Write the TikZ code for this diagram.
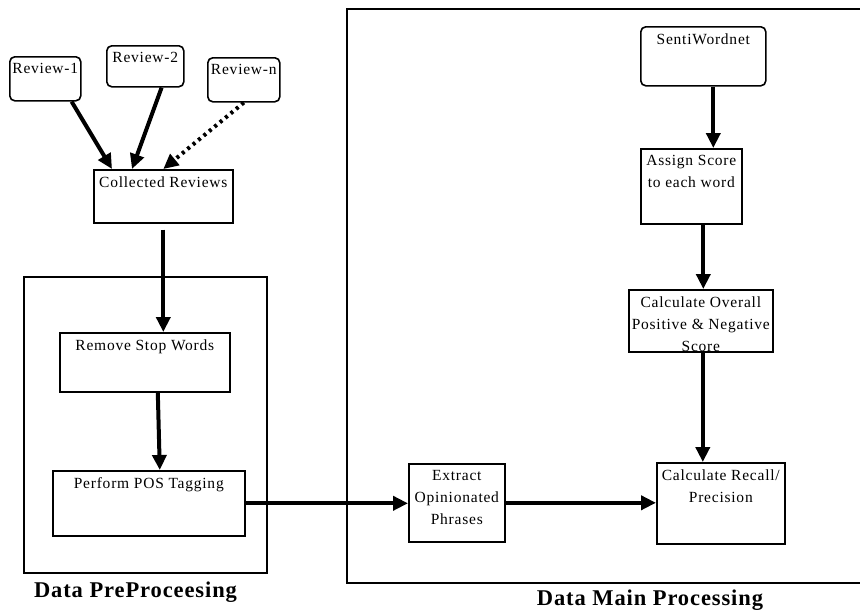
\documentclass[tikz,border=0pt]{standalone}
\usepackage{fontspec}
\setmainfont{Liberation Serif}[LetterSpace=5]
\newfontfamily\headfont{Liberation Serif}[LetterSpace=4]
\usetikzlibrary{arrows.meta}

\tikzset{
  stagebox/.style 2 args={draw, line width=1.6pt, inner sep=0pt, anchor=north west,
    font=\fontsize{15.5}{22}\selectfont,
    execute at begin node={\begin{minipage}[t][#2pt][t]{#1pt}\centering\vspace*{6.5pt}},
    execute at end node={\end{minipage}}},
  sourcebox/.style 2 args={stagebox={#1}{#2}, rounded corners=5pt},
  flow/.style={line width=4pt, -{Triangle[length=15pt,width=14pt]}},
  hint/.style={flow, dash pattern=on 3pt off 4pt},
  title/.style={font=\headfont\bfseries\fontsize{22.5}{26}\selectfont, anchor=base},
}

\begin{document}
\begin{tikzpicture}[x=1pt, y=-1pt]
  \clip (0,0) rectangle (860,613);

  % Frames
  \draw[line width=1.6pt] (24,277) rectangle (267,573);
  \draw[line width=1.6pt] (347,9) rectangle (880,583);

  % Review sources
  \node[sourcebox={71}{44}] (rev1) at (9,56) {Review-1};
  \node[sourcebox={77}{41}] (rev2) at (106,45) {Review-2};
  \node[sourcebox={72}{44}] (revn) at (207,57) {Review-n};

  % Preprocessing
  \node[stagebox={139}{53}] (coll) at (93,169) {Collected Reviews};
  \node[stagebox={170}{59}] (rsw) at (59,332) {Remove Stop Words};
  \node[stagebox={192}{65}] (pos) at (52,470) {Perform POS Tagging};

  % Main processing
  \node[stagebox={96}{78}] (ext) at (408,463) {Extract\\Opinionated\\Phrases};
  \node[sourcebox={125}{59}] (senti) at (640,26) {SentiWordnet};
  \node[stagebox={101}{75}] (assign) at (640,148) {Assign Score\\to each word};
  \node[stagebox={144}{62}] (overall) at (628,289) {Calculate Overall\\Positive \& Negative\\Score};
  \node[stagebox={128}{81}] (crp) at (656,462) {Calculate Recall/\\Precision};

  % Frame titles
  \node[title] (prelabel) at (135.5,597) {Data PreProceesing};
  \node[title] (mainlabel) at (650,605) {Data Main Processing};

  % Edges into the collection
  \draw[flow] ([xshift=-10pt]rev1.south east) -- ([xshift=19pt]coll.north west);
  \draw[flow] ([xshift=-23pt]rev2.south east) -- ([xshift=39pt]coll.north west);
  \draw[hint] (revn.south) -- (coll.north);

  % Edges through preprocessing
  \draw[flow] ([yshift=-6pt]coll.south) -- (coll.south |- rsw.north);
  \draw[flow] ([xshift=13pt]rsw.south) -- ([xshift=11pt]pos.north);
  \draw[flow] (pos.east) -- (pos.east -| ext.west);
  \draw[flow] (ext.east) -- (ext.east -| crp.west);

  % Edges through scoring
  \draw[flow] ([xshift=10pt]senti.south) -- ([xshift=10pt]senti.south |- assign.north);
  \draw[flow] ([xshift=12pt]assign.south) -- ([xshift=12pt]assign.south |- overall.north);
  \draw[flow] ([xshift=2pt]overall.south) -- ([xshift=2pt]overall.south |- crp.north);

\end{tikzpicture}
\end{document}
